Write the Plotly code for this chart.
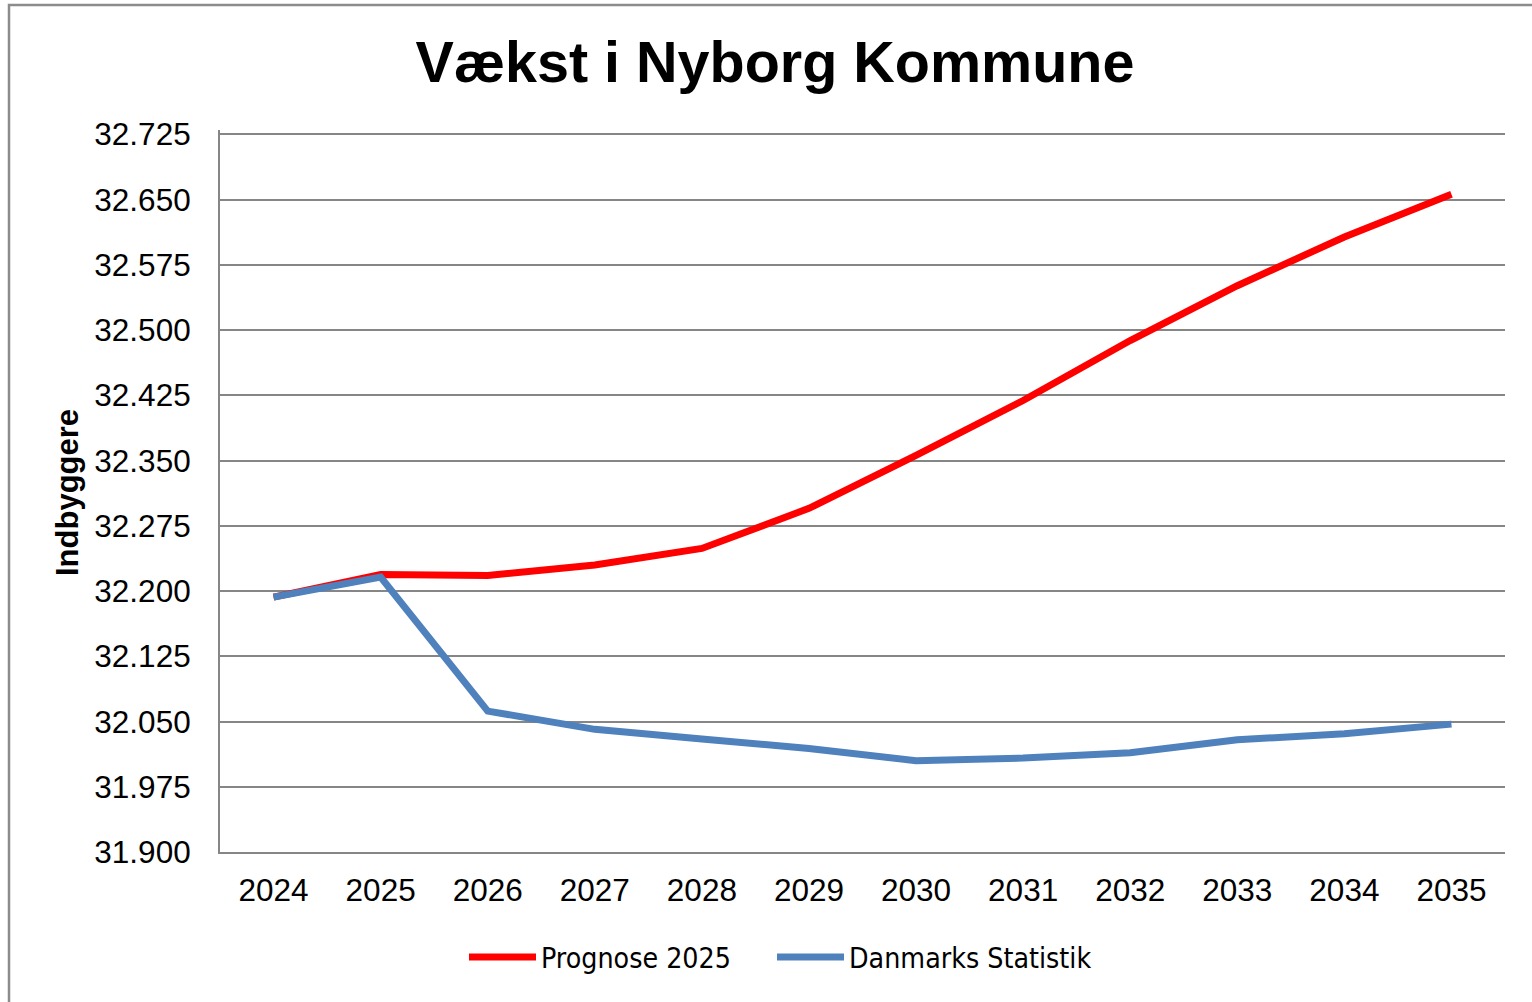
import plotly.graph_objects as go

years = ["2024", "2025", "2026", "2027", "2028", "2029", "2030", "2031", "2032", "2033", "2034", "2035"]
prognose_2025 = [32193, 32219, 32218, 32230, 32249, 32295, 32356, 32419, 32488, 32551, 32607, 32656]
danmarks_statistik = [32193, 32216, 32062, 32041, 32030, 32019, 32005, 32008, 32014, 32029, 32036, 32047]
y_ticks = [31900, 31975, 32050, 32125, 32200, 32275, 32350, 32425, 32500, 32575, 32650, 32725]

W, H = 1532, 1002
L, R, T, B = 220, 27, 130, 150
pw, ph = W - L - R, H - T - B

grid = "#868686"

fig = go.Figure()
fig.add_trace(go.Scatter(x=years, y=prognose_2025, mode="lines", name="Prognose 2025",
                         line=dict(color="#FF0000", width=7), legend="legend"))
fig.add_trace(go.Scatter(x=years, y=danmarks_statistik, mode="lines", name="Danmarks Statistik",
                         line=dict(color="#4F81BD", width=7), legend="legend2"))

leg_font = dict(family="Liberation Sans Narrow, DejaVu Sans Condensed, Arial Narrow, sans-serif", size=28.3)
leg_common = dict(orientation="h", xanchor="left", y=(852 - 957) / ph, yanchor="middle",
                  font=leg_font, itemwidth=67, bgcolor="rgba(0,0,0,0)")

fig.update_layout(
    width=W, height=H,
    margin=dict(l=L, r=R, t=T, b=B, autoexpand=False),
    paper_bgcolor="white", plot_bgcolor="white",
    separators=",.",
    title=dict(text="<b>Vækst i Nyborg Kommune</b>", x=775 / W, xref="container", xanchor="center",
               y=1 - 62 / H, yref="container", yanchor="middle",
               font=dict(family="Liberation Sans, Arial, sans-serif", size=57.5, color="black")),
    font=dict(family="Liberation Sans, Arial, sans-serif", color="black"),
    showlegend=True,
    legend=dict(x=(464 - L) / pw, **leg_common),
    legend2=dict(x=(772 - L) / pw, **leg_common),
    xaxis=dict(type="category", range=[-0.5, 11.5], showgrid=False, showline=True, linecolor=grid,
               linewidth=2, ticks="", tickfont=dict(size=31.5), ticklabelstandoff=9, fixedrange=True),
    yaxis=dict(range=[31900, 32730], tickvals=y_ticks, tickformat=",d", showgrid=True, gridcolor=grid,
               gridwidth=2, showline=True, linecolor=grid, linewidth=2, ticks="", zeroline=False,
               tickfont=dict(size=31.5), ticklabelstandoff=21, fixedrange=True),
    annotations=[dict(text="<b>Indbyggere</b>", textangle=-90, x=(67 - L) / pw, y=(852 - 493) / ph,
                      xref="paper", yref="paper", xanchor="center", yanchor="middle", showarrow=False,
                      font=dict(size=31, color="black"))],
    shapes=[dict(type="rect", xref="paper", yref="paper", x0=(9 - L) / pw, y0=(852 - 1100) / ph,
                 x1=(1600 - L) / pw, y1=(852 - 5) / ph, line=dict(color="#8C8C8C", width=2.5),
                 fillcolor="rgba(0,0,0,0)", layer="below")],
)

fig.write_html("out.html", config={"displayModeBar": False},
               post_script="document.body.style.margin='0';")
